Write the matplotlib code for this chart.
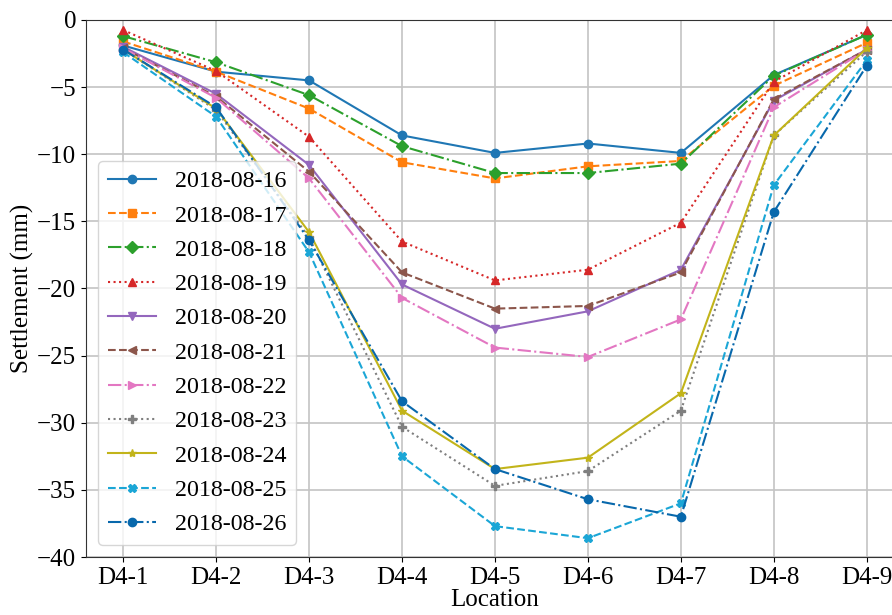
import matplotlib
matplotlib.use('Agg')
import matplotlib.pyplot as plt

plt.rcParams['font.family'] = ['Liberation Serif', 'DejaVu Serif']
plt.rcParams['font.size'] = 18

locations = ['D4-1', 'D4-2', 'D4-3', 'D4-4', 'D4-5', 'D4-6', 'D4-7', 'D4-8', 'D4-9']
dates = ['2018-08-16', '2018-08-17', '2018-08-18', '2018-08-19', '2018-08-20',
         '2018-08-21', '2018-08-22', '2018-08-23', '2018-08-24', '2018-08-25',
         '2018-08-26']

s16 = [-1.9, -3.85, -4.5, -8.6, -9.9, -9.2, -9.9, -4.1, -1.1]
s17 = [-1.6, -3.85, -6.6, -10.6, -11.8, -10.9, -10.5, -4.9, -1.7]
s18 = [-1.2, -3.15, -5.6, -9.4, -11.4, -11.4, -10.7, -4.15, -1.1]
s19 = [-0.75, -3.8, -8.7, -16.5, -19.4, -18.6, -15.1, -4.6, -0.75]
s20 = [-2.0, -5.5, -10.8, -19.7, -23.0, -21.7, -18.6, -6.0, -2.2]
s21 = [-2.1, -5.7, -11.3, -18.8, -21.5, -21.3, -18.8, -5.9, -2.2]
s22 = [-2.1, -5.8, -11.8, -20.7, -24.4, -25.1, -22.3, -6.5, -2.2]
s23 = [-2.2, -6.7, -16.2, -30.3, -34.7, -33.6, -29.1, -8.6, -2.35]
s24 = [-2.2, -6.6, -15.8, -29.1, -33.45, -32.6, -27.8, -8.6, -2.1]
s25 = [-2.4, -7.2, -17.3, -32.5, -37.7, -38.6, -36.0, -12.3, -3.0]
s26 = [-2.2, -6.5, -16.4, -28.4, -33.45, -35.7, -37.0, -14.3, -3.4]
series = [s16, s17, s18, s19, s20, s21, s22, s23, s24, s25, s26]

colors = ['C0', 'C1', 'C2', 'C3', 'C4', 'C5', 'C6', 'C7', '#c2b41a', '#1ba6d6', '#0868ac']
styles = ['-', '--', '-.', ':', '-', '--', '-.', ':', '-', '--', '-.']
markers = ['o', 's', 'D', '^', 'v', '<', '>', 'P', '*', 'X', 'o']

fig = plt.figure(figsize=(8.92, 6.15), dpi=100)
ax = fig.add_axes([0.0964, 0.0943, 0.917, 0.8732])

x = list(range(len(locations)))
for vals, lab, c, ls, m in zip(series, dates, colors, styles, markers):
    ax.plot(x, vals, color=c, linestyle=ls, marker=m, label=lab)

ax.set_xticks(x)
ax.set_xticklabels(locations)
ax.set_xlim(-0.4, 8.4)
ax.set_ylim(-40, 0)
ax.set_yticks(range(-40, 1, 5))
ax.grid(True, color='#c4c4c4', linewidth=1.2)
ax.set_axisbelow(True)
ax.set_xlabel('Location', labelpad=0)
ax.set_ylabel('Settlement (mm)', labelpad=2)
for sp in ax.spines.values():
    sp.set_color('#333333')
ax.legend(loc='lower left', fontsize=17.3, handlelength=2.0, labelspacing=0.52)

fig.savefig('out.png', dpi=100)
